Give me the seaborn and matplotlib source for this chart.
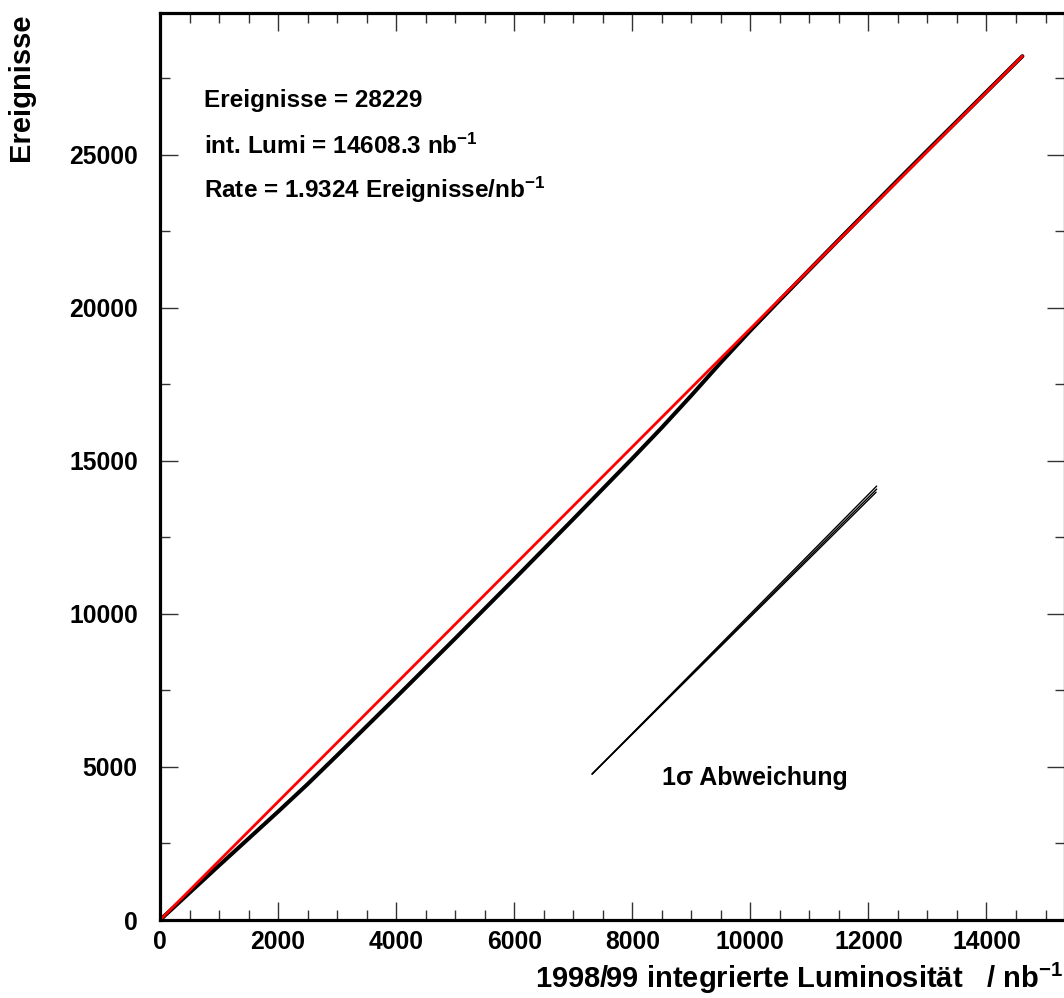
import numpy as np
import pandas as pd
import seaborn as sns
import matplotlib

matplotlib.use('Agg')
import matplotlib.pyplot as plt
from matplotlib.ticker import MultipleLocator

# Werte
lumi = [0, 500, 1000, 1500, 2000, 2500, 3000, 3500, 4000, 4500, 5000, 5500, 6000, 6500,
        7000, 7500, 8000, 8500, 9000, 9500, 10000, 10500, 11000, 11500, 12000, 12500,
        13000, 13500, 14000, 14608.3]
ereignisse = [0, 890, 1780, 2660, 3540, 4440, 5380, 6330, 7280, 8240, 9200, 10170, 11140, 12120,
              13100, 14090, 15080, 16090, 17140, 18220, 19260, 20260, 21250, 22235, 23210, 24185,
              25150, 26105, 27065, 28229]

# Fit-Gerade (Rate = 1.9324 Ereignisse/nb^-1)
fit_lumi = [0, 14608.3]
fit_ereignisse = [0, 28229]

# 1 sigma Abweichung: drei Linien vom gemeinsamen Startpunkt
sigma_start = (7320, 4770)
sigma_end_lumi = [12140, 12140, 12130]
sigma_end_ereignisse = [14180, 14080, 13980]

df = pd.DataFrame({"lumi": lumi, "ereignisse": ereignisse})
df_fit = pd.DataFrame({"lumi": fit_lumi, "ereignisse": fit_ereignisse})

sns.set_theme(style="ticks")
plt.rcParams['font.family'] = ['Liberation Sans', 'DejaVu Sans']
plt.rcParams['font.weight'] = 'bold'
plt.rcParams['text.color'] = 'black'
plt.rcParams['axes.labelcolor'] = 'black'
plt.rcParams['axes.edgecolor'] = 'black'
plt.rcParams['xtick.labelcolor'] = 'black'
plt.rcParams['ytick.labelcolor'] = 'black'
plt.rcParams['mathtext.fontset'] = 'custom'
plt.rcParams['mathtext.rm'] = 'Liberation Sans:bold'
plt.rcParams['mathtext.bf'] = 'Liberation Sans:bold'
plt.rcParams['mathtext.it'] = 'Liberation Sans:bold'

fig = plt.figure(figsize=(10.64, 9.98), dpi=100)
ax = fig.add_axes([160 / 1064, 1 - 920 / 998, 905 / 1064, 907 / 998])

sns.lineplot(data=df, x="lumi", y="ereignisse", ax=ax, color="black", lw=2.9,
             sort=False, estimator=None)
sns.lineplot(data=df_fit, x="lumi", y="ereignisse", ax=ax, color="#ff0000", lw=2.0,
             sort=False, estimator=None)
for xe, ye in zip(sigma_end_lumi, sigma_end_ereignisse):
    d = pd.DataFrame({"lumi": [sigma_start[0], xe], "ereignisse": [sigma_start[1], ye]})
    sns.lineplot(data=d, x="lumi", y="ereignisse", ax=ax, color="black", lw=1.0,
                 sort=False, estimator=None)

ax.set_xlim(0, 15330)
ax.set_ylim(0, 29640)

ax.xaxis.set_major_locator(MultipleLocator(2000))
ax.xaxis.set_minor_locator(MultipleLocator(500))
ax.yaxis.set_major_locator(MultipleLocator(5000))
ax.yaxis.set_minor_locator(MultipleLocator(2500))
ax.tick_params(which='both', direction='in', top=True, right=True, width=1, color='#333333')
ax.tick_params(which='major', length=13)
ax.tick_params(which='minor', length=7)
ax.tick_params(axis='x', labelsize=17.8, pad=7)
ax.tick_params(axis='y', labelsize=17.8, pad=16)
for lab in ax.get_xticklabels() + ax.get_yticklabels():
    lab.set_fontweight('bold')
for sp in ax.spines.values():
    sp.set_linewidth(2.3)

ax.set_ylabel("Ereignisse", fontsize=21, fontweight='bold', loc='top')
ax.yaxis.set_label_coords(-0.138, 1.0)
ax.set_xlabel("1998/99 integrierte Luminosität   / nb$^{-1}$", fontsize=21,
              fontweight='bold', loc='right')
ax.xaxis.set_label_coords(0.998, -0.045)

txt = dict(fontsize=17.5, fontweight='bold', ha='left', va='baseline')
ax.text(746, 26570, "Ereignisse = 28229", **txt)
ax.text(746, 25030, "int. Lumi = 14608.3 nb$^{-1}$", **txt)
ax.text(746, 23590, "Rate = 1.9324 Ereignisse/nb$^{-1}$", **txt)
ax.text(8510, 4410, "1σ Abweichung", fontsize=18, fontweight='bold', ha='left', va='baseline')

fig.savefig("out.png", dpi=100, facecolor='white')
